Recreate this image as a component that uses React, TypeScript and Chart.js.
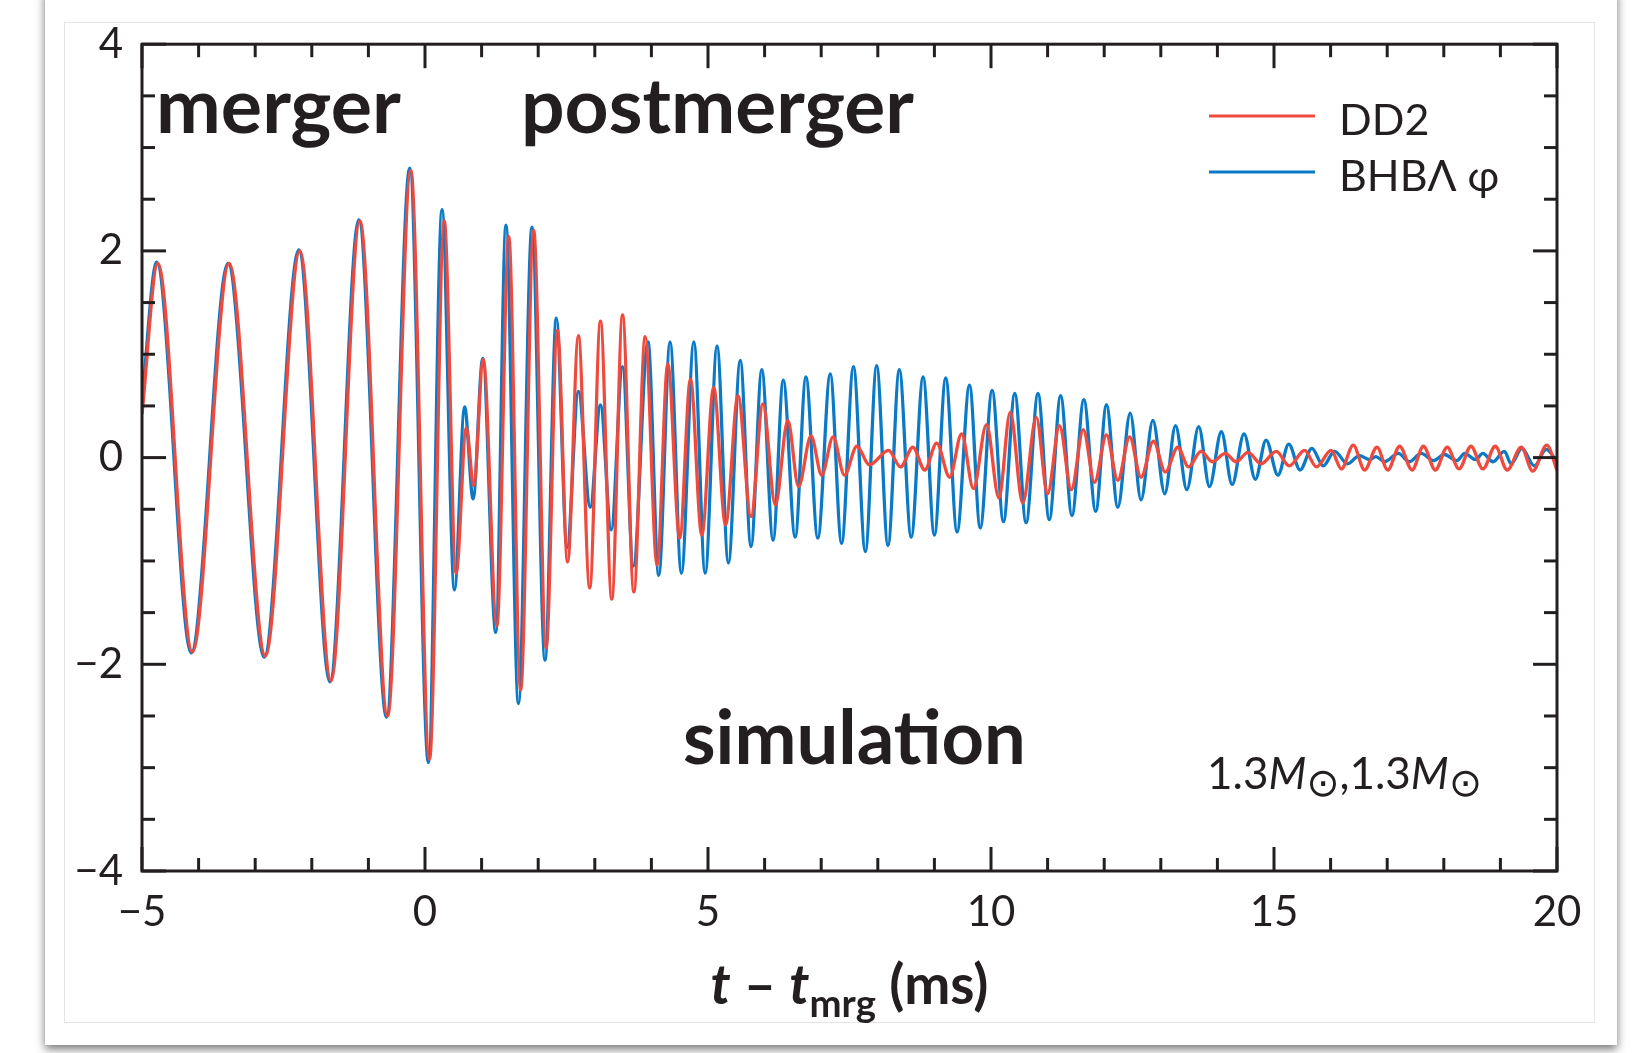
import { useEffect, useRef } from 'react';
import { Chart, registerables } from 'chart.js';

Chart.register(...registerables);

// ---------------- data (extrema) ----------------
const seriesNames = ['DD2', 'BHB\u039B \u03C6'];

const ddTimes = [
  -5.0, -4.72, -4.11, -3.46, -2.82, -2.21, -1.66, -1.15, -0.66, -0.25,
  0.08, 0.34, 0.55, 0.73, 0.86, 1.03, 1.27, 1.48, 1.69, 1.92,
  2.14, 2.34, 2.52, 2.71, 2.91, 3.1, 3.3, 3.49, 3.69, 3.89,
  4.1, 4.29, 4.5, 4.69, 4.89, 5.1, 5.31, 5.53, 5.76, 5.97,
  6.19, 6.41, 6.6, 6.82, 7.01, 7.21, 7.41, 7.63, 7.85, 8.19,
  8.4, 8.62, 8.83, 9.04, 9.27, 9.48, 9.69, 9.92, 10.14, 10.34,
  10.56, 10.8, 11.0, 11.21, 11.42, 11.63, 11.83, 12.04, 12.24, 12.45,
  12.65, 12.87, 13.08, 13.3, 13.49, 13.71, 13.91, 14.14, 14.33, 14.54,
  14.77, 15.04, 15.27, 15.54, 15.75, 16.01, 16.19, 16.4, 16.6, 16.82,
  17.01, 17.22, 17.44, 17.64, 17.85, 18.06, 18.27, 18.48, 18.69, 18.91,
  19.12, 19.37, 19.57, 19.82, 20.0,
];
const ddValues = [
  0.42, 1.88, -1.88, 1.88, -1.92, 2.0, -2.16, 2.29, -2.5, 2.78,
  -2.92, 2.29, -1.12, 0.29, -0.27, 0.95, -1.63, 2.14, -2.25, 2.2,
  -1.84, 1.23, -1.01, 1.18, -1.26, 1.32, -1.37, 1.38, -1.3, 1.17,
  -1.04, 0.91, -0.78, 0.76, -0.75, 0.68, -0.65, 0.6, -0.57, 0.52,
  -0.46, 0.36, -0.28, 0.21, -0.17, 0.2, -0.17, 0.11, -0.07, 0.07,
  -0.09, 0.1, -0.12, 0.14, -0.19, 0.23, -0.3, 0.32, -0.39, 0.44,
  -0.44, 0.39, -0.35, 0.31, -0.31, 0.27, -0.24, 0.22, -0.22, 0.2,
  -0.19, 0.16, -0.14, 0.1, -0.09, 0.06, -0.04, 0.04, -0.04, 0.05,
  -0.06, 0.06, -0.08, 0.07, -0.09, 0.07, -0.11, 0.12, -0.12, 0.1,
  -0.12, 0.11, -0.12, 0.11, -0.12, 0.1, -0.11, 0.11, -0.11, 0.11,
  -0.12, 0.1, -0.13, 0.12, -0.12,
];

const bhbTimes = [
  -5.0, -4.74, -4.13, -3.48, -2.84, -2.23, -1.68, -1.17, -0.68, -0.27,
  0.06, 0.3, 0.52, 0.7, 0.85, 1.02, 1.25, 1.43, 1.65, 1.89,
  2.12, 2.32, 2.51, 2.71, 2.92, 3.1, 3.29, 3.49, 3.68, 3.94,
  4.13, 4.33, 4.53, 4.75, 4.95, 5.16, 5.36, 5.57, 5.76, 5.95,
  6.15, 6.33, 6.54, 6.73, 6.94, 7.16, 7.36, 7.57, 7.78, 7.98,
  8.18, 8.38, 8.59, 8.8, 9.0, 9.2, 9.4, 9.62, 9.81, 10.02,
  10.22, 10.42, 10.62, 10.83, 11.03, 11.23, 11.43, 11.64, 11.85, 12.04,
  12.24, 12.46, 12.65, 12.86, 13.07, 13.26, 13.46, 13.67, 13.86, 14.07,
  14.26, 14.47, 14.67, 14.86, 15.07, 15.26, 15.46, 15.67, 15.87, 16.07,
  16.3, 16.51, 16.69, 16.8, 16.95, 17.2, 17.39, 17.6, 17.82, 18.01,
  18.23, 18.37, 18.56, 18.69, 18.87, 19.07, 19.19, 19.38, 19.6, 19.81,
  20.0,
];
const bhbValues = [
  0.55, 1.89, -1.89, 1.88, -1.93, 2.01, -2.17, 2.3, -2.51, 2.8,
  -2.95, 2.4, -1.28, 0.49, -0.4, 0.96, -1.69, 2.25, -2.38, 2.23,
  -1.96, 1.35, -0.87, 0.64, -0.48, 0.51, -0.7, 0.88, -1.05, 1.12,
  -1.14, 1.12, -1.12, 1.12, -1.12, 1.08, -1.02, 0.94, -0.86, 0.85,
  -0.8, 0.75, -0.77, 0.78, -0.78, 0.81, -0.83, 0.88, -0.91, 0.89,
  -0.85, 0.85, -0.77, 0.78, -0.75, 0.77, -0.72, 0.7, -0.68, 0.65,
  -0.62, 0.62, -0.63, 0.62, -0.6, 0.6, -0.56, 0.56, -0.52, 0.51,
  -0.48, 0.43, -0.41, 0.36, -0.35, 0.31, -0.31, 0.3, -0.28, 0.25,
  -0.26, 0.23, -0.21, 0.17, -0.17, 0.13, -0.12, 0.09, -0.08, 0.06,
  -0.06, 0.02, -0.02, 0.01, -0.04, 0.04, -0.04, 0.04, -0.03, 0.03,
  -0.03, 0.04, -0.02, 0.04, -0.04, 0.06, -0.06, 0.09, -0.08, 0.08,
  -0.04,
];

const xTickLabels = [-5, 0, 5, 10, 15, 20];
const yTickLabels = [-4, -2, 0, 2, 4];
const xMinorStep = 1;
const yMinorStep = 0.5;
const annotationTexts = ['merger', 'postmerger', 'simulation'];
const xTitleParts = ['t', ' \u2013 ', 't', 'mrg', ' (ms)'];
const massParts = ['1.3', 'M', '\u2299', ',', '1.3', 'M', '\u2299'];

// ---------------- styling ----------------
const FONT = 'Lato, "Open Sans", "DejaVu Sans", sans-serif';
const INK = '#231f20';
const RED = '#ee4a3d';
const BLUE = '#0a79c6';

type Piece = { t: string; size: number; weight?: string; style?: string; dy?: number; family?: string };

function drawRich(ctx: CanvasRenderingContext2D, pieces: Piece[], x: number, y: number, target: number, align: 'left' | 'center') {
  const fontOf = (p: Piece, k: number) => `${p.style || 'normal'} ${p.weight || 'normal'} ${p.size * k}px ${p.family || FONT}`;
  let total = 0;
  for (const p of pieces) {
    ctx.font = fontOf(p, 1);
    total += ctx.measureText(p.t).width;
  }
  const k = target > 0 ? target / total : 1;
  let cx = align === 'center' ? x - (total * k) / 2 : x;
  ctx.textAlign = 'left';
  ctx.textBaseline = 'alphabetic';
  for (const p of pieces) {
    ctx.font = fontOf(p, k);
    ctx.fillText(p.t, cx, y + (p.dy || 0) * k);
    cx += ctx.measureText(p.t).width;
  }
}

const decorPlugin = {
  id: 'decor',
  afterDatasetsDraw(chart: any) {
    const { ctx, chartArea: a, scales } = chart;
    const xs = scales.x;
    const ys = scales.y;
    ctx.save();
    ctx.strokeStyle = INK;
    ctx.fillStyle = INK;
    ctx.lineWidth = 3;
    const seg = (x1: number, y1: number, x2: number, y2: number) => {
      ctx.beginPath();
      ctx.moveTo(x1, y1);
      ctx.lineTo(x2, y2);
      ctx.stroke();
    };
    for (let v = xs.min; v <= xs.max + 1e-9; v += xMinorStep) {
      const len = xTickLabels.includes(v) ? 24 : 13;
      const px = xs.getPixelForValue(v);
      seg(px, a.bottom, px, a.bottom - len);
      seg(px, a.top, px, a.top + len);
    }
    for (let v = ys.min; v <= ys.max + 1e-9; v += yMinorStep) {
      const len = yTickLabels.includes(v) ? 24 : 13;
      const py = ys.getPixelForValue(v);
      seg(a.left, py, a.left + len, py);
      seg(a.right, py, a.right - len, py);
    }
    ctx.strokeRect(a.left, a.top, a.right - a.left, a.bottom - a.top);

    // big annotations
    drawRich(ctx, [{ t: annotationTexts[0], size: 70, weight: 'bold' }], 156, 133, 245, 'left');
    drawRich(ctx, [{ t: annotationTexts[1], size: 70, weight: 'bold' }], 521, 133, 393, 'left');
    drawRich(ctx, [{ t: annotationTexts[2], size: 70, weight: 'bold' }], 683, 764, 343, 'left');

    // legend
    const ds = chart.data.datasets;
    const legendY = [116, 172];
    ds.forEach((d: any, i: number) => {
      ctx.strokeStyle = d.borderColor;
      ctx.lineWidth = 3.2;
      seg(1209, legendY[i], 1315, legendY[i]);
      ctx.fillStyle = INK;
      ctx.font = `normal 400 43px ${FONT}`;
      ctx.textAlign = 'left';
      ctx.textBaseline = 'middle';
      ctx.fillText(d.label, 1339, legendY[i] + 5);
    });

    // mass label
    ctx.fillStyle = INK;
    drawRich(
      ctx,
      [
        { t: massParts[0], size: 40 },
        { t: massParts[1], size: 40, style: 'italic' },
        { t: massParts[2], size: 36, dy: 6, family: '"DejaVu Sans", sans-serif' },
        { t: massParts[3], size: 40 },
        { t: massParts[4], size: 40 },
        { t: massParts[5], size: 40, style: 'italic' },
        { t: massParts[6], size: 36, dy: 6, family: '"DejaVu Sans", sans-serif' },
      ],
      1207,
      789,
      275,
      'left'
    );

    // x axis title
    const cxTitle = (a.left + a.right) / 2;
    drawRich(
      ctx,
      [
        { t: xTitleParts[0], size: 46, weight: 'bold', style: 'italic' },
        { t: xTitleParts[1], size: 46, weight: 'bold' },
        { t: xTitleParts[2], size: 46, weight: 'bold', style: 'italic' },
        { t: xTitleParts[3], size: 32, weight: 'bold', dy: 11 },
        { t: xTitleParts[4], size: 46, weight: 'bold' },
      ],
      cxTitle,
      1004,
      278,
      'center'
    );
    ctx.restore();
  },
};

const fmt = (v: number | string) => {
  const n = Number(v);
  return n < 0 ? '\u2212' + Math.abs(n) : String(n);
};

export default function App() {
  const ref = useRef<HTMLCanvasElement | null>(null);

  useEffect(() => {
    const canvas = ref.current;
    if (!canvas) return;
    const chart = new Chart(canvas, {
      type: 'line',
      data: {
        datasets: [
          {
            label: seriesNames[0],
            data: ddTimes.map((t, i) => ({ x: t, y: ddValues[i] })),
            borderColor: RED,
            borderWidth: 3.3,
            pointRadius: 0,
            fill: false,
            cubicInterpolationMode: 'monotone',
          },
          {
            label: seriesNames[1],
            data: bhbTimes.map((t, i) => ({ x: t, y: bhbValues[i] })),
            borderColor: BLUE,
            borderWidth: 3.3,
            pointRadius: 0,
            fill: false,
            cubicInterpolationMode: 'monotone',
          },
        ],
      },
      options: {
        responsive: false,
        animation: false,
        events: [],
        layout: { padding: { left: 0, top: 43, right: 77, bottom: 0 } },
        plugins: { legend: { display: false }, tooltip: { enabled: false } },
        scales: {
          x: {
            type: 'linear',
            min: -5,
            max: 20,
            grid: { display: false, drawTicks: false },
            border: { display: false },
            afterBuildTicks: (s: any) => {
              s.ticks = xTickLabels.map((v) => ({ value: v }));
            },
            afterFit: (s: any) => {
              s.height = 182;
            },
            ticks: {
              color: INK,
              font: { family: FONT, size: 42 },
              padding: 16,
              maxRotation: 0,
              autoSkip: false,
              callback: fmt,
            },
          },
          y: {
            type: 'linear',
            min: -4,
            max: 4,
            grid: { display: false, drawTicks: false },
            border: { display: false },
            afterBuildTicks: (s: any) => {
              s.ticks = yTickLabels.map((v) => ({ value: v }));
            },
            afterFit: (s: any) => {
              s.width = 142;
            },
            ticks: {
              color: INK,
              font: { family: FONT, size: 42 },
              padding: 19,
              autoSkip: false,
              callback: fmt,
            },
          },
        },
      } as any,
      plugins: [decorPlugin],
    });
    return () => chart.destroy();
  }, []);

  return (
    <div style={{ position: 'absolute', left: 0, top: 0, width: 1634, height: 1053, background: '#ffffff', overflow: 'hidden' }}>
      <div
        style={{
          position: 'absolute',
          left: 45,
          top: -10,
          width: 1572,
          height: 1055,
          background: '#ffffff',
          boxShadow: '0 4px 9px rgba(0,0,0,0.55)',
        }}
      />
      <div
        style={{
          position: 'absolute',
          left: 64,
          top: 22,
          width: 1531,
          height: 1001,
          border: '1.5px solid #e4e4e4',
          boxSizing: 'border-box',
        }}
      />
      <canvas ref={ref} width={1634} height={1053} style={{ position: 'absolute', left: 0, top: 0 }} />
    </div>
  );
}
